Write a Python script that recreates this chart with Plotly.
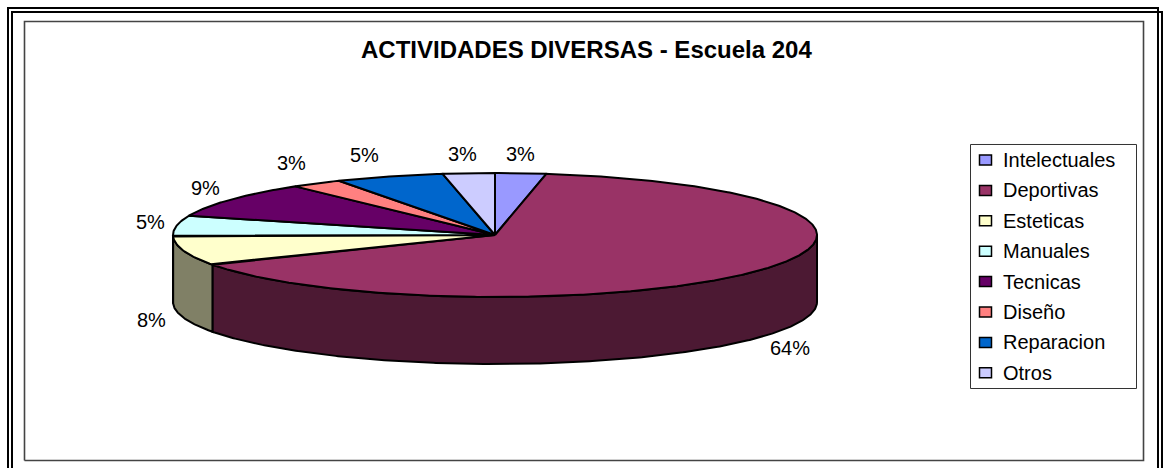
import numpy as np
import plotly.graph_objects as go

# Survey shares, clockwise from twelve o'clock
categories = ["Intelectuales", "Deportivas", "Esteticas", "Manuales",
              "Tecnicas", "Diseño", "Reparacion", "Otros"]
shares = [2.55, 64.49, 7.6, 5.4, 9.3, 2.6, 5.46, 2.6]
top_colors = ["#9999FF", "#993366", "#FFFFCC", "#CCFFFF",
              "#660066", "#FF8080", "#0066CC", "#CCCCFF"]
side_colors = ["#4C4C80", "#4C1933", "#808066", "#668080",
               "#330033", "#804040", "#003366", "#666680"]

W, H = 1165, 468
CX, CY, RX = 495.0, 235.0, 322.0   # pie centre and horizontal radius, px
TILT = 62.0 / RX                   # vertical squash of the disc
DEPTH = 67.0 / RX                  # height of the disc wall
FONT = "Liberation Sans"
LABEL_SIZE = 20


def px(x):
    return x / W


def py(y):
    return 1 - y / H


def arc(a0, a1, drop=0.0):
    """Points on the disc rim between two clockwise angles in degrees."""
    t = np.radians(np.linspace(a0, a1, max(int(abs(a1 - a0) * 2), 2)))
    return np.sin(t), TILT * np.cos(t) - drop


fractions = np.array(shares) / sum(shares)
edges = np.concatenate([[0.0], np.cumsum(fractions) * 360.0])

fig = go.Figure()

# Wall of the disc: only the part of the rim facing the viewer
for i, name in enumerate(categories):
    a0, a1 = max(edges[i], 90.0), min(edges[i + 1], 270.0)
    if a1 <= a0:
        continue
    xt, yt = arc(a0, a1)
    xb, yb = arc(a1, a0, DEPTH)
    fig.add_trace(go.Scatter(
        x=np.r_[xt, xb, xt[0]], y=np.r_[yt, yb, yt[0]], mode="lines",
        fill="toself", fillcolor=side_colors[i],
        line=dict(color="black", width=2), hoverinfo="skip", showlegend=False))

# Top face of each slice
for i, name in enumerate(categories):
    xt, yt = arc(edges[i], edges[i + 1])
    fig.add_trace(go.Scatter(
        x=np.r_[0, xt, 0], y=np.r_[0, yt, 0], mode="lines",
        fill="toself", fillcolor=top_colors[i], name=name,
        line=dict(color="black", width=2), showlegend=False))

# Page border and chart frame
shapes = []
for pts, color, width in [
    ([(8, 480), (8, 8), (1158, 8), (1158, 480)], "black", 2),
    ([(12, 480), (12, 12), (1162, 12), (1162, 480)], "black", 2),
    ([(24.5, 460.5), (24.5, 21.5), (1143.5, 21.5), (1143.5, 460.5), (24.5, 460.5)], "#444444", 1.6),
    ([(970.5, 144.5), (1136.5, 144.5), (1136.5, 388.5), (970.5, 388.5), (970.5, 144.5)], "#333333", 1),
]:
    path = "M " + " L ".join(f"{px(x):.5f},{py(y):.5f}" for x, y in pts)
    shapes.append(dict(type="path", xref="paper", yref="paper", path=path,
                       line=dict(color=color, width=width)))

annotations = [dict(text="ACTIVIDADES DIVERSAS - Escuela 204", xref="paper", yref="paper",
                    x=px(587), y=py(50), showarrow=False, xanchor="center", yanchor="middle",
                    font=dict(family=FONT, size=24, color="black", weight="bold"))]

# Legend: swatch and caption per category
LEGEND_TOP, LEGEND_STEP = 160.0, 30.4
for i, name in enumerate(categories):
    yc = LEGEND_TOP + i * LEGEND_STEP
    shapes.append(dict(type="rect", xref="paper", yref="paper",
                       x0=px(979.5), x1=px(991.5), y0=py(yc + 5), y1=py(yc - 5),
                       fillcolor=top_colors[i], line=dict(color="black", width=1.5)))
    annotations.append(dict(text=name, xref="paper", yref="paper", x=px(1001), y=py(yc),
                            showarrow=False, xanchor="left", yanchor="middle",
                            font=dict(family=FONT, size=LABEL_SIZE, color="black")))

# Percent labels around the rim
label_spots = [(520, 154), (790, 348), (151, 320), (150, 222),
               (205, 188), (291, 163), (364, 155), (462, 154)]
for (x, y), f in zip(label_spots, fractions):
    annotations.append(dict(text=f"{round(f * 100)}%", xref="paper", yref="paper",
                            x=px(x), y=py(y), showarrow=False,
                            xanchor="center", yanchor="middle",
                            font=dict(family=FONT, size=LABEL_SIZE, color="black")))

fig.update_layout(
    width=W, height=H, margin=dict(l=0, r=0, t=0, b=0),
    paper_bgcolor="white", plot_bgcolor="white", showlegend=False,
    xaxis=dict(range=[-CX / RX, (W - CX) / RX], visible=False, fixedrange=True),
    yaxis=dict(range=[(CY - H) / RX, CY / RX], visible=False, fixedrange=True),
    shapes=shapes, annotations=annotations,
)

fig.write_html("out.html")
